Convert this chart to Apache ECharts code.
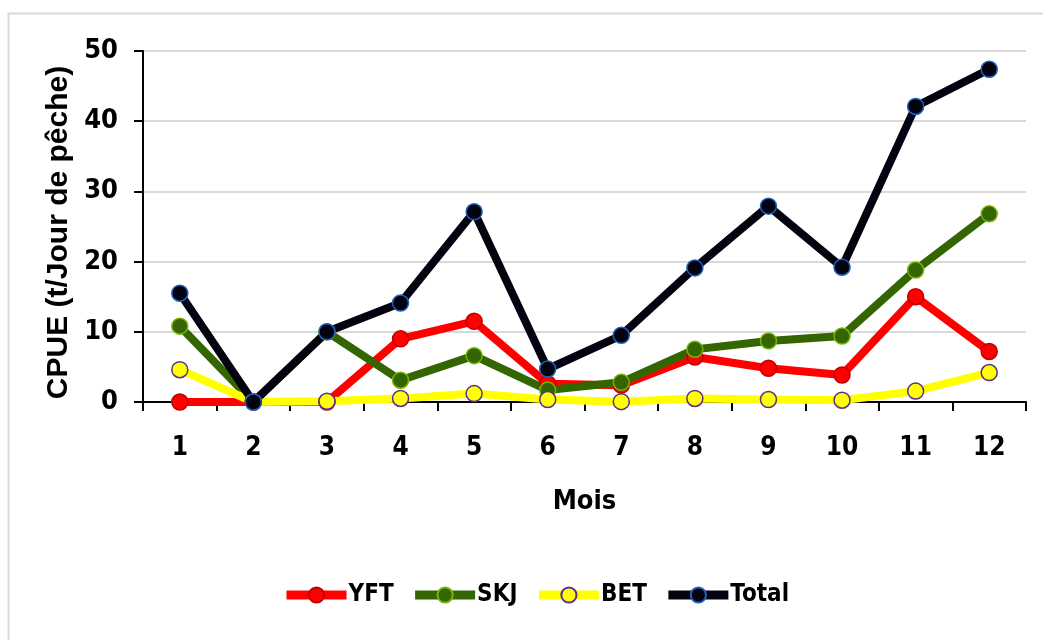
<!DOCTYPE html>
<html>
<head>
<meta charset="utf-8">
<style>
  html, body { margin: 0; padding: 0; background: #ffffff; }
  #chart { width: 1043px; height: 640px; }
</style>
<script src="https://cdn.jsdelivr.net/npm/echarts@6/dist/echarts.min.js"></script>
</head>
<body>
<div id="chart"></div>
<script>
// mois 1..12
var months = ['1', '2', '3', '4', '5', '6', '7', '8', '9', '10', '11', '12'];
var yft   = [0, 0, 0, 9.0, 11.5, 2.6, 2.4, 6.4, 4.8, 3.85, 15.0, 7.2];
var skj   = [10.8, 0, 10.0, 3.1, 6.6, 1.7, 2.8, 7.5, 8.7, 9.4, 18.8, 26.8];
var bet   = [4.6, 0, 0.1, 0.5, 1.2, 0.35, 0.05, 0.5, 0.35, 0.25, 1.55, 4.2];
var total = [15.5, 0, 10.0, 14.1, 27.1, 4.7, 9.5, 19.1, 27.9, 19.2, 42.1, 47.4];

var narrow = '"DejaVu Sans Condensed", "Liberation Sans", sans-serif';

function lineSeries(name, data, lineColor, fill, border) {
  return {
    name: name,
    type: 'line',
    data: data,
    symbol: 'circle',
    symbolSize: 16,
    showSymbol: true,
    lineStyle: { color: lineColor, width: 8 },
    itemStyle: { color: fill, borderColor: border, borderWidth: 1.5 },
    emphasis: { disabled: true }
  };
}

var chart = echarts.init(document.getElementById('chart'), null, { renderer: 'canvas' });

chart.setOption({
  animation: false,
  backgroundColor: '#ffffff',
  graphic: [{
    type: 'rect',
    shape: { x: 8.5, y: 13.5, width: 1200, height: 800 },
    style: { fill: 'none', stroke: '#d9d9d9', lineWidth: 2 },
    silent: true
  }],
  grid: { left: 143, right: 17, top: 51, bottom: 238 },
  legend: {
    left: 277,
    top: 578,
    itemWidth: 60,
    itemHeight: 19,
    itemGap: 17,
    lineStyle: { width: 9 },
    textStyle: { color: '#000', fontFamily: narrow, fontWeight: 'bold', fontSize: 24, padding: [0, 0, 0, -3] },
    data: ['YFT', 'SKJ', 'BET', 'Total']
  },
  xAxis: {
    type: 'category',
    data: months,
    boundaryGap: true,
    axisLine: { lineStyle: { color: '#000', width: 2 } },
    axisTick: { show: true, length: 9, lineStyle: { color: '#000', width: 2 } },
    axisLabel: { color: '#000', fontFamily: narrow, fontWeight: 'bold', fontSize: 26, margin: 33 },
    name: 'Mois',
    nameLocation: 'middle',
    nameGap: 86,
    nameTextStyle: { color: '#000', fontFamily: narrow, fontWeight: 'bold', fontSize: 27 }
  },
  yAxis: {
    type: 'value',
    min: 0,
    max: 50,
    interval: 10,
    axisLine: { show: true, lineStyle: { color: '#000', width: 2 } },
    axisTick: { show: true, length: 9, lineStyle: { color: '#000', width: 2 } },
    axisLabel: { color: '#000', fontFamily: narrow, fontWeight: 'bold', fontSize: 27, margin: 25 },
    splitLine: { lineStyle: { color: '#d9d9d9', width: 2 } },
    name: 'CPUE (t/Jour de pêche)',
    nameLocation: 'middle',
    nameGap: 63,
    nameTextStyle: { color: '#000', fontFamily: '"Liberation Sans", sans-serif', fontWeight: 'bold', fontSize: 30, padding: [0, 12, 0, 0] }
  },
  series: [
    lineSeries('YFT', yft, '#ff0000', '#ff0000', '#c00000'),
    lineSeries('SKJ', skj, '#336600', '#336600', '#77b300'),
    lineSeries('BET', bet, '#ffff00', '#ffff00', '#5a2d91'),
    lineSeries('Total', total, '#03030f', '#03030f', '#1f5fbf')
  ]
});
</script>
</body>
</html>
